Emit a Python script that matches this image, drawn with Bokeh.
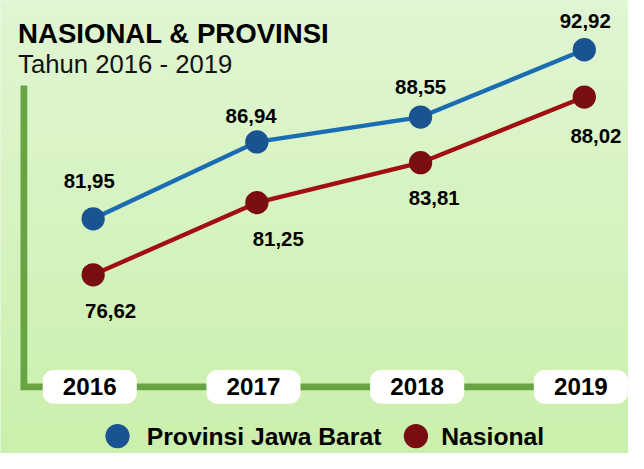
import numpy as np
from bokeh.plotting import figure
from bokeh.models import Range1d
from bokeh.core.properties import value
from bokeh.embed import file_html
from bokeh.resources import INLINE

# ---- data ----
years = [2016, 2017, 2018, 2019]
year_labels = ["2016", "2017", "2018", "2019"]
jabar = [81.95, 86.94, 88.55, 92.92]
nasional = [76.62, 81.25, 83.81, 88.02]
series_names = ["Provinsi Jawa Barat", "Nasional"]
title_text = "NASIONAL & PROVINSI"
subtitle_text = "Tahun 2016 - 2019"

# ---- layout (reference is 644x469, figure is scaled to fit 628x453) ----
W, H = 628, 453
RW, RH = 644, 469
S = 0.97  # size scale for screen-unit things
X_START, X_END = 2015.434, 2019.270
YB = (66.718, 96.117)   # range for Jawa Barat series
YR = (65.158, 94.216)   # range for Nasional series

def px_x(rx):
    return X_START + rx / RW * (X_END - X_START)

def px_y(ry):
    return YB[1] - ry / RH * (YB[1] - YB[0])

def dpx(n):
    return n / RW * (X_END - X_START)

def fs(n):
    return f"{n * S:.1f}px"

BLUE_LINE = "#1b6db3"
BLUE_DOT = "#1a5391"
RED_LINE = "#a10f12"
RED_DOT = "#7a0d0f"
GREEN = "#68a443"
FONT = value("Liberation Sans")

p = figure(width=W, height=H, x_range=Range1d(X_START, X_END), y_range=Range1d(*YB),
           x_axis_type=None, y_axis_type=None, min_border=0,
           toolbar_location=None, output_backend="svg")
p.extra_y_ranges = {"nas": Range1d(*YR)}
p.grid.visible = False
p.outline_line_color = None
p.background_fill_color = "#d6f2c0"
p.border_fill_color = "#d6f2c0"

# gradient background
n = 64
top = np.array([0xe1, 0xf6, 0xd3])
bot = np.array([0xcb, 0xf0, 0xad])
img = np.zeros((n, 1), dtype=np.uint32)
view = img.view(dtype=np.uint8).reshape((n, 1, 4))
for i in range(n):
    t = i / (n - 1)  # 0 bottom -> 1 top
    c = bot + (top - bot) * t
    view[i, 0, 0:3] = c.astype(np.uint8)
    view[i, 0, 3] = 255
p.image_rgba(image=[img], x=X_START, y=YB[0], dw=X_END - X_START, dh=YB[1] - YB[0])

# L-shaped axis
p.line(x=[px_x(24), px_x(24), px_x(680)], y=[px_y(88), px_y(400), px_y(400)],
       line_color=GREEN, line_width=7 * S, line_join="miter")

# year boxes and labels
box_x = [y + dpx(-3.5) for y in years]
p.rect(x=box_x, y=px_y(400), width=97 * S, height=35 * S, width_units="screen",
       height_units="screen", fill_color="white", line_color=None, border_radius=11)
p.text(x=box_x, y=px_y(400), text=year_labels, text_font=FONT, text_font_style="bold",
       text_font_size=fs(25), text_align="center", text_baseline="middle", text_color="black")

# series
p.line(years, jabar, line_color=BLUE_LINE, line_width=4.5 * S)
p.scatter(years, jabar, size=24 * S, fill_color=BLUE_DOT, line_color=None)
p.line(years, nasional, line_color=RED_LINE, line_width=4.5 * S, y_range_name="nas")
p.scatter(years, nasional, size=24 * S, fill_color=RED_DOT, line_color=None, y_range_name="nas")

def fmt(v):
    return f"{v:.2f}".replace(".", ",")

p.text(x=years, y=jabar, text=[fmt(v) for v in jabar],
       x_offset=[d * S for d in [-4, -6, 0, 1]], y_offset=[d * S for d in [-39, -27, -31, -30]],
       text_font=FONT, text_font_style="bold", text_font_size=fs(21),
       text_align="center", text_baseline="middle", text_color="black")
p.text(x=years, y=nasional, text=[fmt(v) for v in nasional],
       x_offset=[d * S for d in [18, 22, 14, 12]], y_offset=[d * S for d in [37, 38, 36, 40]],
       text_font=FONT, text_font_style="bold", text_font_size=fs(21),
       text_align="center", text_baseline="middle", text_color="black", y_range_name="nas")

# titles
p.text(x=[px_x(18)], y=[px_y(34)], text=[title_text], text_font=FONT,
       text_font_style="bold", text_font_size=fs(28.5), text_align="left",
       text_baseline="alphabetic", text_color="black")
p.text(x=[px_x(18)], y=[px_y(66)], text=[subtitle_text], text_font=FONT,
       text_font_size=fs(26.5), text_align="left", text_baseline="alphabetic", text_color="#111111")

# legend
LY = 451
p.scatter(x=[px_x(120), px_x(426)], y=[px_y(LY), px_y(LY)], size=25 * S,
          fill_color=[BLUE_DOT, RED_DOT], line_color=None)
p.text(x=[px_x(150), px_x(452)], y=[px_y(LY), px_y(LY)], text=series_names, text_font=FONT,
       text_font_style="bold", text_font_size=fs(25.5), text_align="left",
       text_baseline="middle", text_color="black")

open("out.html", "w").write(file_html(p, INLINE))
